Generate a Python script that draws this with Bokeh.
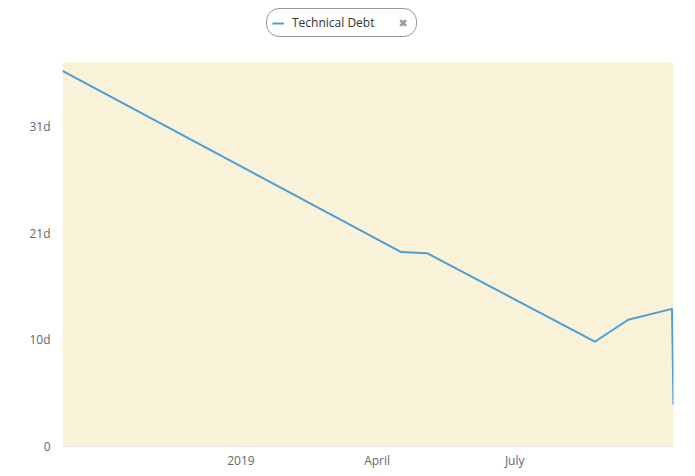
from datetime import datetime
from bokeh.plotting import figure
from bokeh.models import (ColumnDataSource, FixedTicker, Range1d, Legend, LegendItem,
                          CustomJSTickFormatter, Label, BoxAnnotation)
from bokeh.embed import file_html
from bokeh.resources import INLINE

dates = ["2018-09-05", "2019-04-17", "2019-05-04", "2019-08-23", "2019-09-14", "2019-10-13", "2019-10-14"]
debt_minutes = [17600, 9110, 9060, 4910, 5940, 6450, 1960]
y_max = 18000
y_ticks = [0, 5000, 10000, 15000]
x_tick_dates = ["2019-01-01", "2019-04-01", "2019-07-01"]
x_tick_labels = ["2019", "April", "July"]
series_name = "Technical Debt"

def ms(s):
    return int((datetime.strptime(s, "%Y-%m-%d") - datetime(1970, 1, 1)).total_seconds() * 1000)

xs = [ms(d) for d in dates]
src = ColumnDataSource(dict(x=xs, y=debt_minutes))

FONT = "Open Sans"
FRAME_H = 447
PLOT_H = 385  # pixel height of the cream plotting area
p = figure(width=688, height=FRAME_H + 24, output_backend="svg", toolbar_location=None,
           x_axis_type="datetime",
           x_range=Range1d(xs[0], xs[-1]), y_range=Range1d(0, y_max * FRAME_H / PLOT_H),
           min_border_left=62, min_border_right=15, min_border_top=0, min_border_bottom=24)
p.outline_line_color = None
p.background_fill_color = "white"
p.border_fill_color = "white"

p.add_layout(BoxAnnotation(bottom=0, top=y_max, fill_color="#faf2d8", fill_alpha=1,
                           line_color=None, level="underlay"))

r = p.line("x", "y", source=src, line_color="#4a9fd6", line_width=2)

p.yaxis.ticker = FixedTicker(ticks=y_ticks)
p.yaxis.formatter = CustomJSTickFormatter(code="return tick == 0 ? '0' : Math.round(tick/480) + 'd';")
tick_ms = [ms(d) for d in x_tick_dates]
p.xaxis.ticker = FixedTicker(ticks=tick_ms)
p.xaxis.major_label_overrides = {t: l for t, l in zip(tick_ms, x_tick_labels)}

for ax in (p.xaxis, p.yaxis):
    ax.major_tick_line_color = None
    ax.minor_tick_line_color = None
    ax.major_tick_out = 0
    ax.major_tick_in = 0
    ax.minor_tick_out = 0
    ax.major_label_text_font = FONT
    ax.major_label_text_font_size = "12px"
    ax.major_label_text_color = "#666666"
p.yaxis.axis_line_color = None
p.xaxis.axis_line_color = "#e6e6e6"
p.xaxis.major_label_standoff = 5
p.yaxis.major_label_standoff = 12

p.xgrid.grid_line_color = None
p.ygrid.grid_line_color = "#ffffff"
p.ygrid.grid_line_alpha = 0.8

legend = Legend(items=[LegendItem(label=series_name, renderers=[r])],
                location=(204, 409), orientation="horizontal",
                border_line_color="#333333", border_line_width=1,
                background_fill_alpha=0,
                label_text_font=FONT, label_text_font_size="12px", label_text_color="#333333",
                glyph_width=12, glyph_height=14, label_standoff=8, label_width=119,
                padding=5, margin=0, spacing=0, border_radius=13)
p.add_layout(legend, "center")

close = Label(x=398, y=23, x_units="canvas", y_units="canvas", text="✖",
              text_baseline="middle", text_align="left", text_font="DejaVu Sans",
              text_font_size="11px", text_color="#999999", level="overlay")
p.add_layout(close, "center")

open("out.html", "w").write(file_html(p, INLINE))
